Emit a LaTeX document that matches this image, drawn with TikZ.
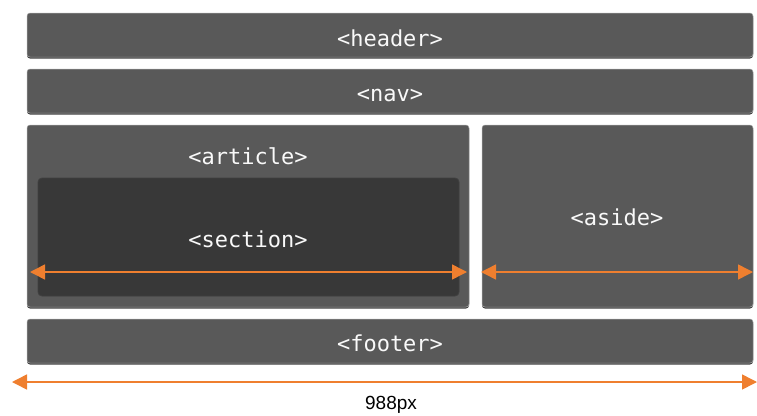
\documentclass[tikz,border=0pt]{standalone}
\usepackage{fontspec}
\setmainfont{Liberation Sans}
\newfontfamily\boxfont{DejaVu Sans Mono}
\usetikzlibrary{arrows.meta}
\definecolor{boxgray}{HTML}{595959}
\definecolor{secgray}{HTML}{383838}
\definecolor{edgegray}{HTML}{A8A8A8}
\definecolor{shadegray}{HTML}{404040}
\definecolor{arrowor}{HTML}{EF7F2F}
\tikzset{
  box/.style={rectangle, rounded corners=3pt, fill=boxgray, draw=edgegray, line width=0.5pt,
    inner sep=0pt, outer sep=0pt},
  secbox/.style={rectangle, rounded corners=4pt, fill=secgray, draw=shadegray, line width=0.8pt,
    inner sep=0pt, outer sep=0pt},
  boxlabel/.style={text=white!95!gray, font=\boxfont\fontsize{22}{24}\selectfont, inner sep=0pt},
  dim/.style={draw=arrowor, line width=1.5pt, {Triangle[length=15pt,width=15pt]}-{Triangle[length=15pt,width=15pt]}},
  sizelabel/.style={font=\fontsize{19}{22}\selectfont, text=black, inner sep=0pt}
}
\begin{document}
\begin{tikzpicture}[x=1pt,y=-1pt]
\useasboundingbox (0,0) rectangle (757,415);
% shadows
\foreach \cx/\cy/\w/\h in {390/35/726/44, 390/91/726/44, 248/216/442/182, 617.5/216/271/182, 390/341/726/44}{
  \fill[shadegray, rounded corners=3pt] (\cx-\w/2,\cy-\h/2+2) rectangle (\cx+\w/2,\cy+\h/2+1.5);
}
\node[box, minimum width=726pt, minimum height=44pt] (header) at (390,35) {};
\node[box, minimum width=726pt, minimum height=44pt] (nav) at (390,91) {};
\node[box, minimum width=442pt, minimum height=182pt] (article) at (248,216) {};
\node[secbox, minimum width=421pt, minimum height=118pt] (section) at (248.5,237) {};
\node[box, minimum width=271pt, minimum height=182pt] (aside) at (617.5,216) {};
\node[box, minimum width=726pt, minimum height=44pt] (footer) at (390,341) {};
\node[boxlabel] (headerlabel) at (390,38) {<header>};
\node[boxlabel] (navlabel) at (390,95) {<nav>};
\node[boxlabel] (articlelabel) at (248,156) {<article>};
\node[boxlabel] (sectionlabel) at (248,239) {<section>};
\node[boxlabel] (asidelabel) at (617,217) {<aside>};
\node[boxlabel] (footerlabel) at (390,343) {<footer>};
% dimension arrows
\coordinate (a1) at (30,272);
\coordinate (a2) at (467,272);
\coordinate (b1) at (481,272);
\coordinate (b2) at (753,272);
\coordinate (c1) at (12,382);
\coordinate (c2) at (757,382);
\draw[dim] (a1) -- (a2);
\draw[dim] (b1) -- (b2);
\draw[dim] (c1) -- (c2);
\node[sizelabel] (width) at (391,405) {988px};
\end{tikzpicture}
\end{document}
